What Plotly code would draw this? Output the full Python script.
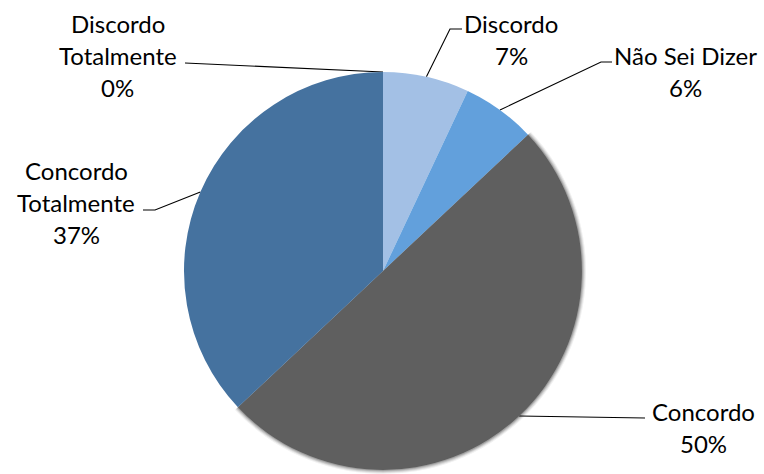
import math
import plotly.graph_objects as go

# ---- data ----
categories = ["Discordo Totalmente", "Discordo", "Não Sei Dizer", "Concordo", "Concordo Totalmente"]
values = [0, 7, 6, 50, 37]
label_lines = [["Discordo", "Totalmente"], ["Discordo"], ["Não Sei Dizer"], ["Concordo"], ["Concordo", "Totalmente"]]
colors = ["#4f79a6", "#a3c0e5", "#62a0dc", "#5f5f5f", "#45729f"]

# ---- layout (pixel geometry) ----
W, H = 764, 474
CX, CY, R = 383, 271, 199
FONT = "Lato"
FS = 24
LINE_H = 32
# label text centre x and first-line centre y (same order as categories)
label_pos = [(117.5, 23), (511, 23.5), (685, 55), (703, 411), (76, 170)]
# leader start points (near the label), optional elbow
leader_start = [[(185, 63)], [(462, 29), (450, 29)], [(612, 62), (601, 62)],
                [(645, 418)], [(143, 210), (155, 210)]]

total = sum(values)


def dom(rr):
    return dict(x=[max(0, (CX - rr) / W), min(1, (CX + rr) / W)],
                y=[max(0, (H - CY - rr) / H), min(1, (H - CY + rr) / H)])


fig = go.Figure()

# soft shadow behind the large grey slice
for k, a in [(4, 0.06), (3, 0.09), (2, 0.12), (1, 0.16)]:
    sh_colors = ["rgba(0,0,0,0)"] * len(values)
    sh_colors[3] = f"rgba(0,0,0,{a})"
    fig.add_trace(go.Pie(
        labels=categories, values=values, sort=False, direction="clockwise", rotation=0,
        marker=dict(colors=sh_colors, line=dict(width=0)),
        textinfo="none", hoverinfo="skip", showlegend=False,
        domain=dom(R + k),
    ))

fig.add_trace(go.Pie(
    labels=categories, values=values, sort=False, direction="clockwise", rotation=0,
    marker=dict(colors=colors, line=dict(width=0)),
    textinfo="none", showlegend=False,
    domain=dom(R),
))

annotations = []
cum = 0
for i, (name, v) in enumerate(zip(categories, values)):
    mid = (cum + v / 2) / total * 2 * math.pi
    cum += v
    ex = CX + R * math.sin(mid)
    ey = CY - R * math.cos(mid)
    pts = leader_start[i] + [(ex, ey)]
    fig.add_trace(go.Scatter(
        x=[p[0] for p in pts], y=[p[1] for p in pts], mode="lines",
        line=dict(color="black", width=1.1), hoverinfo="skip", showlegend=False,
    ))
    lx, ly = label_pos[i]
    lines = label_lines[i] + [f"{v}%"]
    for j, t in enumerate(lines):
        annotations.append(dict(
            x=lx, y=ly + j * LINE_H, xref="x", yref="y", text=t, showarrow=False,
            xanchor="center", yanchor="middle",
            font=dict(family=FONT, size=FS, color="black"),
        ))

fig.update_layout(
    width=W, height=H,
    margin=dict(l=0, r=0, t=0, b=0),
    paper_bgcolor="white", plot_bgcolor="rgba(0,0,0,0)",
    xaxis=dict(range=[0, W], visible=False, fixedrange=True),
    yaxis=dict(range=[H, 0], visible=False, fixedrange=True),
    annotations=annotations,
)

fig.write_html("out.html", config={"displayModeBar": False},
               post_script="document.body.style.margin='0';document.body.style.overflow='hidden';")
